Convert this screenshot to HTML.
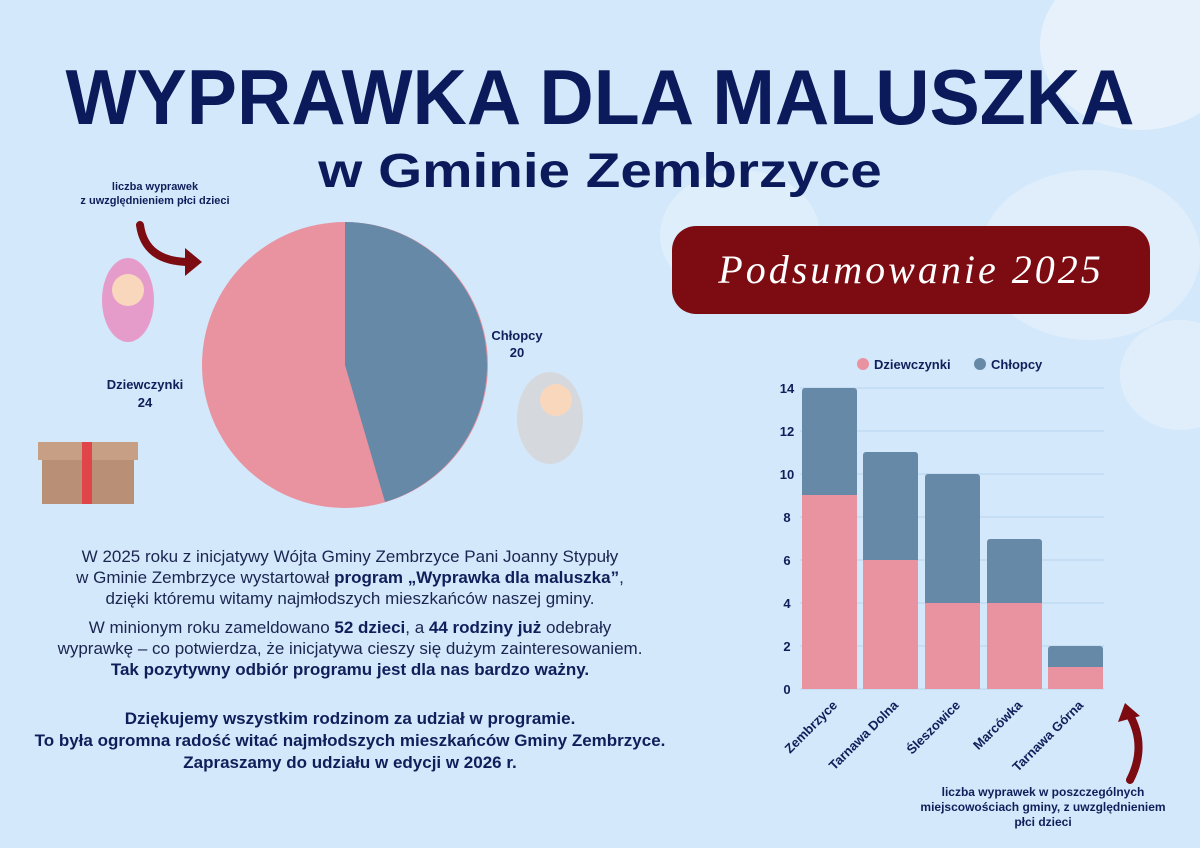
<!DOCTYPE html>
<html><head><meta charset="utf-8"><style>
body{margin:0;width:1200px;height:848px;overflow:hidden;background:#d3e8fb;font-family:"Liberation Sans",sans-serif;color:#0f1f5a;position:relative}
.a{position:absolute}
.t1{left:0;width:1200px;top:52px;text-align:center;font-size:78px;font-weight:900;color:#0a1a5a;line-height:90px;transform:scaleX(0.965)}
.t2{left:0;width:1200px;top:144px;text-align:center;font-size:48px;font-weight:bold;color:#0a1a5a;transform:scaleX(1.18)}
.ban{left:672px;top:226px;width:478px;height:88px;background:#7d0b12;border-radius:24px;color:#fff;text-align:center;line-height:88px;font-family:"Liberation Serif",serif;font-style:italic;font-size:40px;letter-spacing:3px}
.p{left:0px;width:700px;text-align:center;font-size:17px;line-height:21px;color:#1a2550}
b{color:#0f1f5a}
.cloud{background:#e6f1fc;border-radius:50%}
</style></head><body>
<div class="a cloud" style="left:1040px;top:-40px;width:200px;height:170px"></div>
<div class="a cloud" style="left:980px;top:170px;width:220px;height:170px;opacity:.7"></div>
<div class="a cloud" style="left:660px;top:170px;width:160px;height:130px;opacity:.6"></div>
<div class="a cloud" style="left:1120px;top:320px;width:120px;height:110px;opacity:.7"></div>
<div class="a t1">WYPRAWKA DLA MALUSZKA</div>
<div class="a t2">w Gminie Zembrzyce</div>
<div class="a ban">Podsumowanie 2025</div>
<div class="a" style="left:60px;top:180px;width:190px;text-align:center;font-size:11px;font-weight:bold;line-height:14px">liczba wyprawek<br>z uwzględnieniem płci dzieci</div>
<svg class="a" style="left:0;top:0" width="1200" height="848">
<path d="M140 225 Q145 262 190 262" stroke="#7d0b12" stroke-width="8" fill="none" stroke-linecap="round"/>
<polygon points="185,248 202,262 185,276" fill="#7d0b12"/>
<path d="M1130 780 Q1148 745 1128 712" stroke="#7d0b12" stroke-width="8" fill="none" stroke-linecap="round"/>
<polygon points="1118,722 1125,703 1140,716" fill="#7d0b12"/>
<circle cx="345" cy="365" r="143" fill="#e8939f"/>
<path d="M345 365 L345 222 A143 143 0 0 1 385 502 Z" fill="#6789a8"/>
<ellipse cx="128" cy="300" rx="26" ry="42" fill="#e69ccb"/>
<circle cx="128" cy="290" r="16" fill="#f8d7bd"/>
<ellipse cx="550" cy="418" rx="33" ry="46" fill="#d5d9de"/>
<circle cx="556" cy="400" r="16" fill="#f8d7bd"/>
<rect x="42" y="442" width="92" height="62" fill="#b99075"/>
<rect x="38" y="442" width="100" height="18" fill="#c79f84"/>
<rect x="82" y="442" width="10" height="62" fill="#e0454a"/>
<g stroke="#b9d4ec" stroke-width="1">
<line x1="800" y1="388" x2="1104" y2="388"/><line x1="800" y1="431" x2="1104" y2="431"/><line x1="800" y1="474" x2="1104" y2="474"/><line x1="800" y1="517" x2="1104" y2="517"/><line x1="800" y1="560" x2="1104" y2="560"/><line x1="800" y1="603" x2="1104" y2="603"/><line x1="800" y1="646" x2="1104" y2="646"/><line x1="800" y1="689" x2="1104" y2="689"/>
</g>
<g fill="#6789a8">
<rect x="802" y="388" width="55" height="301" rx="3"/>
<rect x="863" y="452" width="55" height="237" rx="3"/>
<rect x="925" y="474" width="55" height="215" rx="3"/>
<rect x="987" y="539" width="55" height="150" rx="3"/>
<rect x="1048" y="646" width="55" height="43" rx="3"/>
</g>
<g fill="#e8939f">
<rect x="802" y="495" width="55" height="194"/>
<rect x="863" y="560" width="55" height="129"/>
<rect x="925" y="603" width="55" height="86"/>
<rect x="987" y="603" width="55" height="86"/>
<rect x="1048" y="667" width="55" height="22"/>
</g>
<g font-size="13" font-weight="bold" fill="#0f1f5a" text-anchor="middle">
<text x="787" y="393">14</text><text x="787" y="436">12</text><text x="787" y="479">10</text><text x="787" y="522">8</text><text x="787" y="565">6</text><text x="787" y="608">4</text><text x="787" y="651">2</text><text x="787" y="694">0</text>
</g>
<g font-size="13" font-weight="bold" fill="#0f1f5a" text-anchor="end">
<text transform="translate(838,706) rotate(-45)">Zembrzyce</text>
<text transform="translate(899,706) rotate(-45)">Tarnawa Dolna</text>
<text transform="translate(961,706) rotate(-45)">Śleszowice</text>
<text transform="translate(1023,706) rotate(-45)">Marcówka</text>
<text transform="translate(1084,706) rotate(-45)">Tarnawa Górna</text>
</g>
<circle cx="863" cy="364" r="6" fill="#e8939f"/>
<text x="874" y="369" font-size="13" font-weight="bold" fill="#0f1f5a">Dziewczynki</text>
<circle cx="980" cy="364" r="6" fill="#6789a8"/>
<text x="991" y="369" font-size="13" font-weight="bold" fill="#0f1f5a">Chłopcy</text>
<g font-size="13" font-weight="bold" fill="#0f1f5a" text-anchor="middle">
<text x="145" y="389">Dziewczynki</text><text x="145" y="407">24</text>
<text x="517" y="340">Chłopcy</text><text x="517" y="357">20</text>
</g>
<g font-size="12" font-weight="bold" fill="#0f1f5a" text-anchor="middle">
<text x="1043" y="796">liczba wyprawek w poszczególnych</text>
<text x="1043" y="811">miejscowościach gminy, z uwzględnieniem</text>
<text x="1043" y="826">płci dzieci</text>
</g>
</svg>
<div class="a p" style="top:546px">W 2025 roku z inicjatywy Wójta Gminy Zembrzyce Pani Joanny Stypuły<br>w Gminie Zembrzyce wystartował <b>program „Wyprawka dla maluszka”</b>,<br>dzięki któremu witamy najmłodszych mieszkańców naszej gminy.</div>
<div class="a p" style="top:617px">W minionym roku zameldowano <b>52 dzieci</b>, a <b>44 rodziny już</b> odebrały<br>wyprawkę – co potwierdza, że inicjatywa cieszy się dużym zainteresowaniem.<br><b>Tak pozytywny odbiór programu jest dla nas bardzo ważny.</b></div>
<div class="a p" style="top:708px;font-weight:bold;line-height:22px;color:#0f1f5a;white-space:nowrap">Dziękujemy wszystkim rodzinom za udział w programie.<br>To była ogromna radość witać najmłodszych mieszkańców Gminy Zembrzyce.<br>Zapraszamy do udziału w edycji w 2026 r.</div>
</body></html>
